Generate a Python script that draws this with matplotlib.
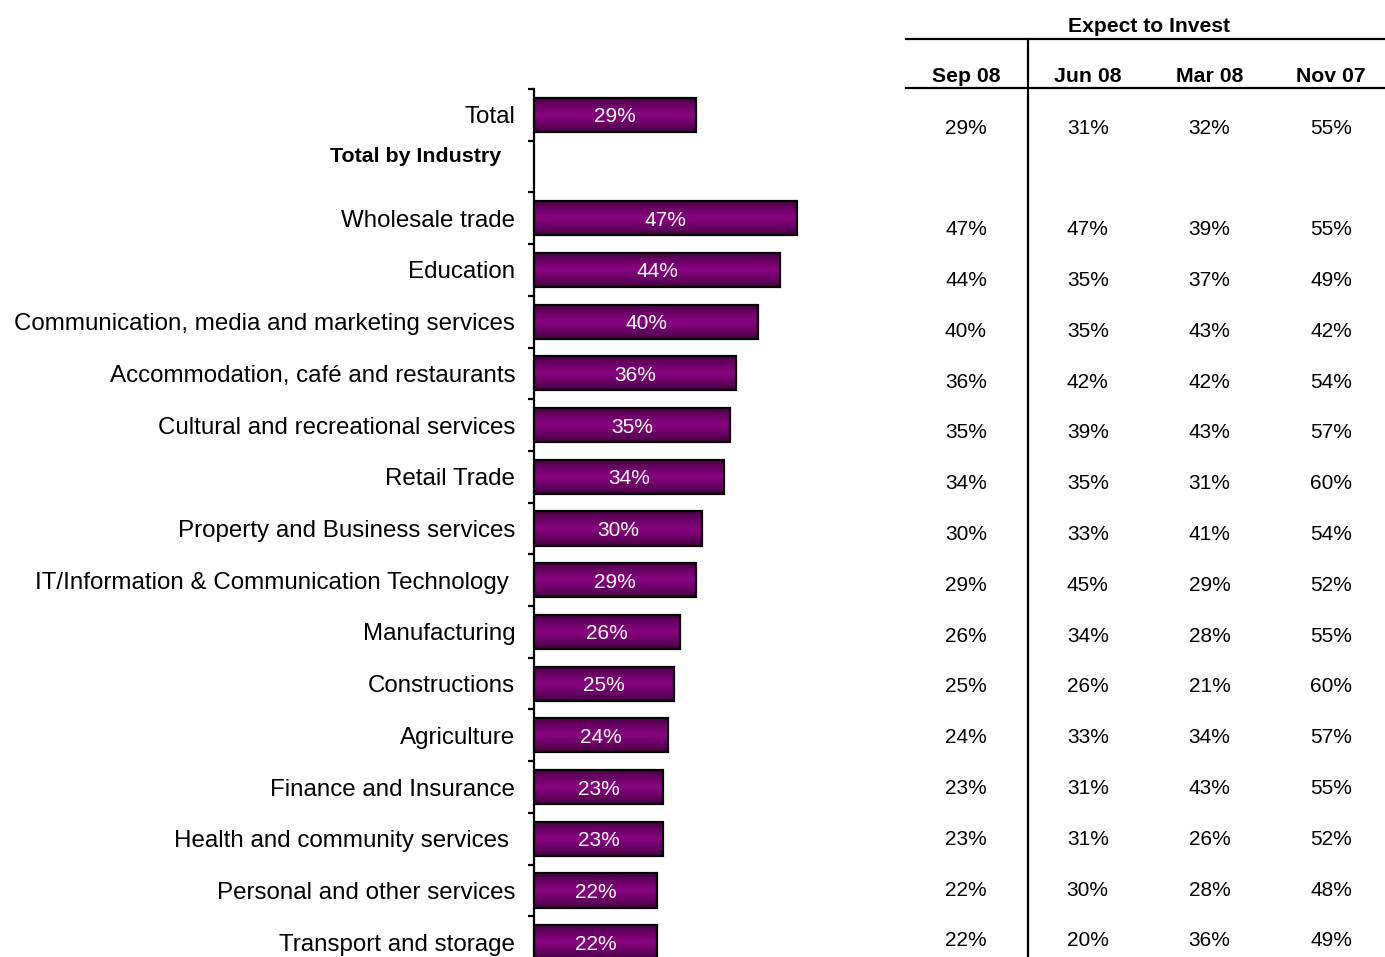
import numpy as np
import matplotlib
matplotlib.use("Agg")
import matplotlib.pyplot as plt
from matplotlib.lines import Line2D

plt.rcParams["font.family"] = ["Liberation Sans", "DejaVu Sans"]

categories = ["Total", "", "Wholesale trade", "Education",
              "Communication, media and marketing services",
              "Accommodation, café and restaurants",
              "Cultural and recreational services", "Retail Trade",
              "Property and Business services",
              "IT/Information & Communication Technology ",
              "Manufacturing", "Constructions", "Agriculture",
              "Finance and Insurance", "Health and community services ",
              "Personal and other services", "Transport and storage"]
periods = ["Sep 08", "Jun 08", "Mar 08", "Nov 07"]
sep08 = [29, None, 47, 44, 40, 36, 35, 34, 30, 29, 26, 25, 24, 23, 23, 22, 22]
jun08 = [31, None, 47, 35, 35, 42, 39, 35, 33, 45, 34, 26, 33, 31, 31, 30, 20]
mar08 = [32, None, 39, 37, 43, 42, 43, 31, 41, 29, 28, 21, 34, 43, 26, 28, 36]
nov07 = [55, None, 55, 49, 42, 54, 57, 60, 54, 52, 55, 60, 57, 55, 52, 48, 49]

W, H = 1385, 957
fig = plt.figure(figsize=(W / 100, H / 100), dpi=100)

# bar chart on the left
ax = fig.add_axes([534 / W, 1 - 968 / H, 366 / W, 879 / H])
n = len(categories)

# vertical gradient: dark edges, brighter middle
grad = np.abs(np.linspace(-1, 1, 64))[:, None]
cmap = matplotlib.colors.LinearSegmentedColormap.from_list(
    "plum", ["#88057f", "#6c0067", "#45003f"])
bh = 0.66
for i, v in enumerate(sep08):
    if v is None:
        continue
    bar = ax.barh(i, v, height=bh, color="none", edgecolor="black",
                  linewidth=1.6, zorder=3)[0]
    im = ax.imshow(grad, cmap=cmap, aspect="auto", zorder=2,
                   extent=[0, v, i + bh / 2, i - bh / 2])
    im.set_clip_path(bar)
    ax.text(v / 2, i, f"{v}%", color="white", fontsize=15,
            ha="center", va="center_baseline", zorder=4)
ax.set_ylim(n - 0.5, -0.5)
ax.set_xlim(0, 366 / 5.6)

for s in ["top", "right", "bottom"]:
    ax.spines[s].set_visible(False)
ax.spines["left"].set_linewidth(1.6)
ax.set_xticks([])
ax.set_yticks(np.arange(n + 1) - 0.5)
ax.set_yticklabels([])
ax.tick_params(axis="y", which="major", length=4.5, width=1.6, direction="out")
ax.set_yticks(np.arange(n), minor=True)
ax.set_yticklabels(categories, minor=True, fontsize=17.4)
ax.tick_params(axis="y", which="minor", length=0, pad=13.5)
ax.text(-33 / 366, 1 - 0.23, "Total by Industry", transform=ax.get_yaxis_transform(),
        ha="right", va="center_baseline", fontsize=15.4, fontweight="bold")

# table of survey rounds on the right
tab = fig.add_axes([906 / W, 0, 479 / W, (H - 88) / H])
tab.set_xlim(-0.493, 3.443)
tab.set_ylim((957 - 126) / 50.8, (88 - 126) / 50.8)
tab.axis("off")
for j, col in enumerate([sep08, jun08, mar08, nov07]):
    for i, v in enumerate(col):
        if v is not None:
            tab.text(j, i, f"{v}%", ha="center", va="center_baseline", fontsize=15)

fig.text(1149 / W, 1 - 25 / H, "Expect to Invest", ha="center", va="center_baseline",
         fontsize=15.2, fontweight="bold")
for j, p in enumerate(periods):
    fig.text((966 + 121.7 * j) / W, 1 - 75 / H, p, ha="center", va="center_baseline",
             fontsize=15.3, fontweight="bold")
fig.add_artist(Line2D([906 / W, 1], [1 - 39 / H] * 2, color="black", lw=1.6))
fig.add_artist(Line2D([906 / W, 1], [1 - 88 / H] * 2, color="black", lw=1.6))
fig.add_artist(Line2D([1028 / W] * 2, [1 - 39 / H, 0], color="black", lw=1.6))

fig.savefig("out.png", dpi=100)
